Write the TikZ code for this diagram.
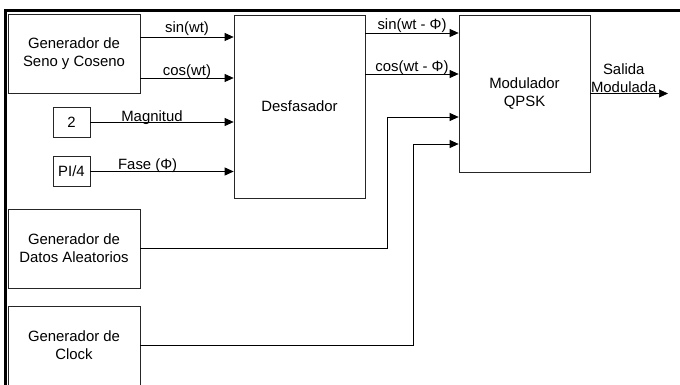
\documentclass[tikz,border=0pt]{standalone}
\usepackage{fontspec}
\setmainfont{Liberation Sans}
\usetikzlibrary{arrows.meta,positioning}

\begin{document}
\begin{tikzpicture}[x=1pt, y=-1pt,
	box/.style={draw=black!85, line width=0.7pt, minimum width=132pt, minimum height=79pt,
		align=center, inner sep=0pt, font=\fontsize{14.9}{18}\selectfont},
	cte/.style={box, minimum width=37pt, minimum height=30pt},
	arr/.style={-{Triangle[length=9pt,width=8pt]}, line width=0.7pt},
	lab/.style={anchor=base, yshift=2pt, inner sep=0pt, font=\fontsize{14.9}{18}\selectfont}
]
	\clip (0,0) rectangle (680,385);
	% frame
	\draw[line width=3pt] (5,390) -- (5,11) -- (685,11);

	\node[box] (gen) at (74,54) {Generador de\\Seno y Coseno};
	\node[cte] (two) at (71.5,122) {2};
	\node[cte] (pi) at (71.5,171.5) {PI/4};
	\node[box, minimum width=131pt, minimum height=183pt] (desf) at (299.5,106.5) {Desfasador};
	\node[box, minimum width=131pt, minimum height=157pt] (mod) at (524.5,93.5) {Modulador\\QPSK};
	\node[box] (datos) at (74,248.5) {Generador de\\Datos Aleatorios};
	\node[box] (clock) at (74,345.5) {Generador de\\Clock};

	\coordinate (k1) at (387,117);
	\coordinate (k2) at (413,144);
	\coordinate (salida) at (668,93.5);

	\draw[arr] ([yshift=17pt]gen.east) coordinate (s1) -- (s1 -| desf.west)
		node[lab, midway, yshift=2pt] {sin(wt)};
	\draw[arr] ([yshift=-24pt]gen.east) coordinate (c1) -- (c1 -| desf.west)
		node[lab, midway] {cos(wt)};
	\draw[arr] (two) -- (two -| desf.west)
		node[lab, pos=0.43, yshift=-1.5pt] {Magnitud};
	\draw[arr] (pi) -- (pi -| desf.west)
		node[lab, pos=0.4] {Fase (Φ)};

	\draw[arr] ([yshift=73.5pt]desf.east) coordinate (s2) -- (s2 -| mod.west)
		node[lab, midway, yshift=1pt] {sin(wt - Φ)};
	\draw[arr] ([yshift=32.5pt]desf.east) coordinate (c2) -- (c2 -| mod.west)
		node[lab, midway] {cos(wt - Φ)};
	\draw[arr] (datos.east) -| (k1) -- (k1 -| mod.west);
	\draw[arr] (clock.east) -| (k2) -- (k2 -| mod.west);

	\draw[arr] (mod.east) -- (salida)
		node[pos=0.43, above, inner sep=1pt, align=center, font=\fontsize{14.9}{18}\selectfont] {Salida\\Modulada};
\end{tikzpicture}
\end{document}
